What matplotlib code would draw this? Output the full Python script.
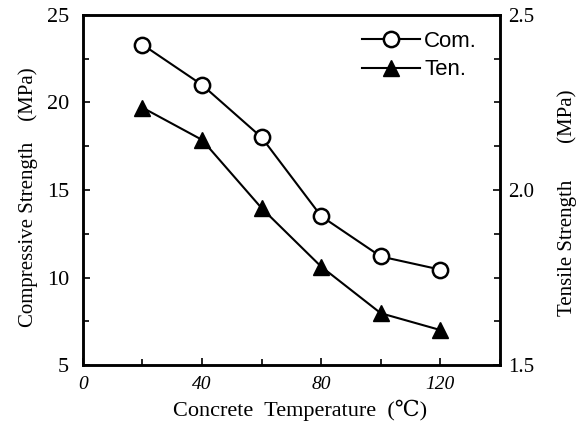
import numpy as np
import matplotlib
matplotlib.use("Agg")
import matplotlib.pyplot as plt
from matplotlib.ticker import MultipleLocator

# data
temp = [20, 40, 60, 80, 100, 120]
com = [23.3, 21.0, 18.0, 13.5, 11.2, 10.45]       # MPa, left axis
ten = [2.235, 2.143, 1.948, 1.781, 1.648, 1.60]   # MPa, right axis

serif = ['Liberation Serif', 'DejaVu Serif']
plt.rcParams['font.family'] = serif

fig = plt.figure(figsize=(5.84, 4.24), dpi=100)
ax = fig.add_axes([0.142, 0.139, 0.714, 0.826])
ax2 = ax.twinx()

l1, = ax.plot(temp, com, '-o', color='black', lw=1.5, ms=11,
              mfc='white', mec='black', mew=1.8, label='Com.')
l2, = ax2.plot(temp, ten, '-^', color='black', lw=1.5, ms=12,
               mfc='black', mec='black', label='Ten.')

ax.set_xlim(0, 140)
ax.set_ylim(5, 25)
ax2.set_ylim(1.5, 2.5)
ax.set_xticks([0, 40, 80, 120])
ax.xaxis.set_minor_locator(MultipleLocator(20))
ax.set_yticks([5, 10, 15, 20, 25])
ax.yaxis.set_minor_locator(MultipleLocator(2.5))
ax2.set_yticks([1.5, 2.0, 2.5])
ax2.set_yticklabels(['1.5', '2.0', '2.5'])
ax2.yaxis.set_minor_locator(MultipleLocator(0.125))

for a in (ax, ax2):
    for s in a.spines.values():
        s.set_linewidth(1.8)
    a.tick_params(which='both', direction='in', width=1.2)
    a.tick_params(which='major', length=5)
    a.tick_params(which='minor', length=4)
ax.tick_params(axis='y', labelsize=16, pad=10)
ax2.tick_params(axis='y', labelsize=15, pad=6)
ax.tick_params(axis='x', labelsize=14, pad=8)
for t in ax.get_xticklabels():
    t.set_style('italic')

ax.set_xlabel('Concrete  Temperature  (℃)', fontsize=16)
ax.set_ylabel('Compressive Strength    (MPa)', fontsize=15)
ax2.set_ylabel('Tensile Strength       (MPa)', fontsize=15)
ax.xaxis.set_label_coords(0.52, -0.1)
ax.yaxis.set_label_coords(-0.108, 0.479)
ax2.yaxis.set_label_coords(1.137, 0.463)

ax.legend([l1, l2], ['Com.', 'Ten.'], loc='upper right',
          bbox_to_anchor=(0.945, 0.955), frameon=False,
          prop={'family': 'Liberation Sans', 'size': 16}, handlelength=2.6,
          handletextpad=0.2, borderaxespad=0, borderpad=0, labelspacing=0.35)

plt.savefig('out.png', dpi=100)
